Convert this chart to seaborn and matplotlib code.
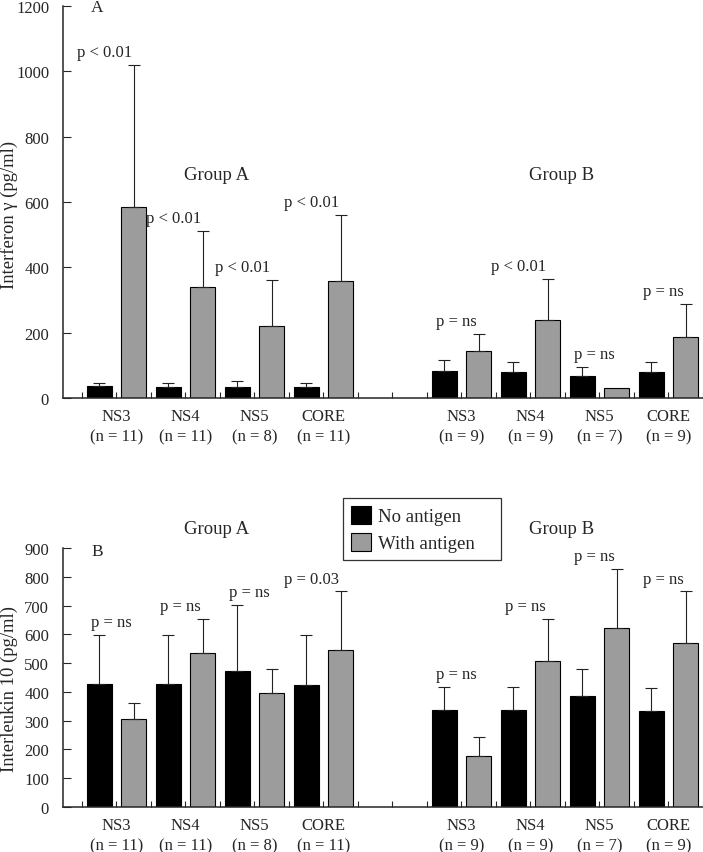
import numpy as np
import matplotlib
matplotlib.use("Agg")
import matplotlib.pyplot as plt
from matplotlib.patches import Patch
import pandas as pd
import seaborn as sns

sns.set_style("ticks")
plt.rcParams["font.family"] = ["Liberation Serif", "DejaVu Serif"]

# ---- data ----
antigens = ["NS3", "NS4", "NS5", "CORE"]
n_group_a = [11, 11, 8, 11]
n_group_b = [9, 9, 7, 9]

# interferon gamma (pg/ml): means and upper SD
ifn_a_no = [37, 33, 33, 33]
ifn_a_no_sd = [8, 12, 19, 13]
ifn_a_with = [585, 340, 220, 358]
ifn_a_with_sd = [434, 171, 142, 203]
ifn_b_no = [83, 80, 67, 80]
ifn_b_no_sd = [33, 30, 28, 30]
ifn_b_with = [144, 239, 30, 187]
ifn_b_with_sd = [52, 125, 0, 101]
ifn_p_a = ["p < 0.01", "p < 0.01", "p < 0.01", "p < 0.01"]
ifn_p_b = ["p = ns", "p < 0.01", "p = ns", "p = ns"]

# interleukin 10 (pg/ml)
il10_a_no = [427, 427, 473, 425]
il10_a_no_sd = [171, 170, 228, 173]
il10_a_with = [306, 535, 396, 546]
il10_a_with_sd = [55, 118, 83, 203]
il10_b_no = [338, 338, 387, 335]
il10_b_no_sd = [80, 80, 93, 78]
il10_b_with = [178, 509, 623, 570]
il10_b_with_sd = [66, 144, 204, 179]
il10_p_a = ["p = ns", "p = ns", "p = ns", "p = 0.03"]
il10_p_b = ["p = ns", "p = ns", "p = ns", "p = ns"]

conditions = ["No antigen", "With antigen"]
palette = {"No antigen": "black", "With antigen": "#9c9c9c"}

# slot layout: group A uses slots 0-7, slots 8-9 empty, group B slots 10-17
slots = ["s%d" % k for k in range(18)]


def build_df(a_no, a_no_sd, a_with, a_with_sd, b_no, b_no_sd, b_with, b_with_sd):
    rows = []
    for i in range(4):
        rows.append((2 * i, "No antigen", a_no[i], a_no_sd[i]))
        rows.append((2 * i + 1, "With antigen", a_with[i], a_with_sd[i]))
        rows.append((10 + 2 * i, "No antigen", b_no[i], b_no_sd[i]))
        rows.append((11 + 2 * i, "With antigen", b_with[i], b_with_sd[i]))
    df = pd.DataFrame(rows, columns=["pos", "Condition", "value", "sd"])
    df["slot"] = ["s%d" % p for p in df["pos"]]
    return df.sort_values("pos").reset_index(drop=True)


def draw_panel(ax, df, p_a, p_b, ymax, ystep, ylabel, letter, letter_y, group_y, label_y):
    sns.barplot(data=df, x="slot", y="value", hue="Condition", order=slots,
                hue_order=conditions, palette=palette, dodge=False, width=0.725,
                errorbar=None, edgecolor="black", linewidth=0.8, legend=False, ax=ax)
    has_err = df["sd"] > 0
    ax.errorbar(df.loc[has_err, "pos"], df.loc[has_err, "value"],
                yerr=[np.zeros(has_err.sum()), df.loc[has_err, "sd"]],
                fmt="none", ecolor="#222222", elinewidth=0.8, capsize=4, capthick=0.8)

    # p-value labels above each pair
    for i in range(4):
        for base, ptxt in ((0, p_a[i]), (10, p_b[i])):
            sub = df[df["pos"].isin([base + 2 * i, base + 2 * i + 1])]
            top = (sub["value"] + sub["sd"]).max()
            ax.annotate(ptxt, xy=(base + 2 * i + 1 - 0.05, top), xytext=(0, 3.5),
                        textcoords="offset points", ha="right", va="bottom", fontsize=12)

    ax.set_xlim(-1.05, 17.5)
    ax.set_ylim(0, ymax)
    ax.set_yticks(np.arange(0, ymax + 1, ystep))
    ticks = np.arange(-0.5, 17.6, 1.0)
    labels = [""] * len(ticks)
    for i in range(4):
        labels[2 * i + 1] = "%s\n(n = %d)" % (antigens[i], n_group_a[i])
        labels[11 + 2 * i] = "%s\n(n = %d)" % (antigens[i], n_group_b[i])
    ax.set_xticks(ticks)
    ax.set_xticklabels(labels, fontsize=12, linespacing=1.3)
    ax.tick_params(axis="x", direction="in", length=4, width=0.8, pad=7.5)
    ax.tick_params(axis="y", direction="in", length=6, width=0.8, pad=10, labelsize=12)
    sns.despine(ax=ax)
    for s in ("left", "bottom"):
        ax.spines[s].set_linewidth(1.1)
    ax.set_xlabel("")
    ax.set_ylabel(ylabel, fontsize=13.4)
    ax.yaxis.set_label_coords(-0.070, label_y)
    ax.text(-0.05, letter_y, letter, fontsize=12.5, ha="center", va="center")
    ax.text(3.4, group_y, "Group A", fontsize=13.5, ha="center", va="center")
    ax.text(13.4, group_y, "Group B", fontsize=13.5, ha="center", va="center")


fig = plt.figure(figsize=(7.03, 8.53), dpi=100)
ax1 = fig.add_axes([63 / 703, (853 - 399) / 853, 640 / 703, 392 / 853])
ax2 = fig.add_axes([63 / 703, (853 - 808) / 853, 640 / 703, 259 / 853])

df_ifn = build_df(ifn_a_no, ifn_a_no_sd, ifn_a_with, ifn_a_with_sd,
                  ifn_b_no, ifn_b_no_sd, ifn_b_with, ifn_b_with_sd)
df_il10 = build_df(il10_a_no, il10_a_no_sd, il10_a_with, il10_a_with_sd,
                   il10_b_no, il10_b_no_sd, il10_b_with, il10_b_with_sd)

draw_panel(ax1, df_ifn, ifn_p_a, ifn_p_b, 1200, 200, "Interferon γ (pg/ml)",
           "A", 1198, 683, 0.47)
draw_panel(ax2, df_il10, il10_p_a, il10_p_b, 900, 100, "Interleukin 10 (pg/ml)",
           "B", 889, 968, 0.46)

handles = [Patch(facecolor=palette[c], edgecolor="black", linewidth=0.8) for c in conditions]
leg = fig.legend(handles, conditions, loc="upper left", mode="expand",
                 bbox_to_anchor=(343 / 703, 1 - 560 / 853, 158 / 703, 61 / 853),
                 fontsize=13.5, frameon=True, fancybox=False, edgecolor="black",
                 borderaxespad=0, handlelength=1.07, handleheight=1.07,
                 handletextpad=0.4, labelspacing=0.42, borderpad=0.42)
leg.get_frame().set_linewidth(0.9)

fig.savefig("out.png", dpi=100)
